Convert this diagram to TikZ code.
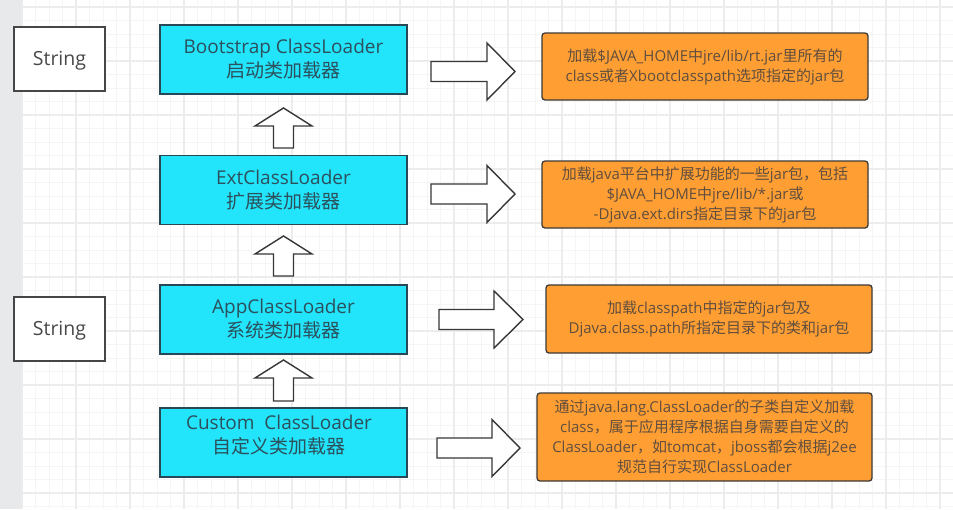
\documentclass[tikz,border=0pt]{standalone}
\usepackage{fontspec}
\setmainfont{Open Sans}
\newfontfamily\cjkfont{Noto Sans CJK SC}
\newcommand{\zh}[1]{{\cjkfont #1}}
\definecolor{cyanfill}{RGB}{34,228,251}
\definecolor{cyanborder}{RGB}{40,72,86}
\definecolor{cyantext}{RGB}{44,80,92}
\definecolor{orangefill}{RGB}{255,158,50}
\definecolor{orangeborder}{RGB}{60,58,56}
\definecolor{orangetext}{RGB}{96,78,62}
\definecolor{strborder}{RGB}{70,70,70}
\definecolor{strtext}{RGB}{72,72,72}
\definecolor{arrowborder}{RGB}{55,55,55}
\definecolor{gridminorc}{RGB}{245,245,245}
\definecolor{gridmajorc}{RGB}{236,236,236}
\definecolor{stripc}{RGB}{232,233,235}
\newcommand{\uparr}[4]{\draw[blockarrow] (#1,#2) -- (#1+28.5,#3) -- (#1+10,#3) -- (#1+10,#4) -- (#1-10,#4) -- (#1-10,#3) -- (#1-28.5,#3) -- cycle;}
\newcommand{\rarr}[4]{\draw[blockarrow] (#3,#4) -- (#2,#4-28.5) -- (#2,#4-10) -- (#1,#4-10) -- (#1,#4+10) -- (#2,#4+10) -- (#2,#4+28.5) -- cycle;}
\begin{document}
\begin{tikzpicture}[x=1pt,y=-1pt,
  gridminor/.style={draw=gridminorc, line width=0.8pt},
  gridmajor/.style={draw=gridmajorc, line width=1.1pt},
  loader/.style={draw=cyanborder, line width=1.5pt, fill=cyanfill, minimum width=247pt, minimum height=69pt, inner sep=0pt, align=center, text=cyantext, font=\fontsize{19}{24}\selectfont},
  loadertext/.style={inner sep=0pt, align=center, text=cyantext, font=\fontsize{19}{24}\selectfont},
  desc/.style={draw=orangeborder, line width=1.3pt, fill=orangefill, rounded corners=3pt, inner sep=0pt, align=center, text=orangetext, font=\fontsize{15}{20}\selectfont},
  strbox/.style={draw=strborder, line width=1.2pt, fill=white, minimum width=91pt, minimum height=64pt, inner sep=0pt, text depth=1pt, text=strtext, font=\fontsize{19.5}{24}\selectfont},
  blockarrow/.style={draw=arrowborder, line width=1.4pt, fill=white, line join=miter}
]
\useasboundingbox (0,0) rectangle (953,509);
\fill[white] (0,0) rectangle (953,509);
\fill[stripc] (0,0) rectangle (21,509);
% grid
\foreach \i in {0,...,69} \draw[gridminor] (22+13.5*\i,0) -- (22+13.5*\i,509);
\foreach \j in {0,...,37} \draw[gridminor] (22,7+13.5*\j) -- (953,7+13.5*\j);
\foreach \i in {0,...,17} \draw[gridmajor] (22+54*\i,0) -- (22+54*\i,509);
\foreach \j in {0,...,9} \draw[gridmajor] (22,7+54*\j) -- (953,7+54*\j);

% String boxes
\node[strbox] (s1) at (59.5,59) {String};
\node[strbox] (s2) at (59.5,329) {String};

% loaders
\node[loader] (boot) at (283.5,59.5) {Bootstrap ClassLoader\\\zh{启动类加载器}};
\node[loader] (ext) at (283.5,190) {ExtClassLoader\\\zh{扩展类加载器}};
\node[loader] (app) at (283.5,319.5) {AppClassLoader\\\zh{系统类加载器}};
\node[loader] (cust) at (283.5,442.5) {};
\node[loadertext] (custtext) at (279,435) {Custom\ \ ClassLoader\\\zh{自定义类加载器}};

% up arrows
\uparr{283.5}{108}{126}{148}
\uparr{283.5}{236}{254}{276}
\uparr{283.5}{360}{378}{401}

% right arrows
\rarr{431}{487}{515}{71.5}
\rarr{431}{487}{515}{194}
\rarr{439}{494}{523}{319.5}
\rarr{437}{492}{520}{448}

% descriptions
\node[desc, minimum width=326pt, minimum height=67pt] (o1) at (705,66.5)
  {\zh{加载}\$JAVA\_HOME\zh{中}jre/lib/rt.jar\zh{里所有的}\\class\zh{或者}Xbootclasspath\zh{选项指定的}jar\zh{包}};
\node[desc, minimum width=326pt, minimum height=67pt] (o2) at (705,194.5)
  {\zh{加载}java\zh{平台中扩展功能的一些}jar\zh{包，包括}\\\$JAVA\_HOME\zh{中}jre/lib/*.jar\zh{或}\\-Djava.ext.dirs\zh{指定目录下的}jar\zh{包}};
\node[desc, minimum width=326pt, minimum height=68pt] (o3) at (709,319)
  {\zh{加载}classpath\zh{中指定的}jar\zh{包及}\\Djava.class.path\zh{所指定目录下的类和}jar\zh{包}};
\node[desc, minimum width=335pt, minimum height=88pt] (o4) at (704.5,437)
  {\zh{通过}java.lang.ClassLoader\zh{的子类自定义加载}\\class\zh{，属于应用程序根据自身需要自定义的}\\ClassLoader\zh{，如}tomcat\zh{，}jboss\zh{都会根据}j2ee\\\zh{规范自行实现}ClassLoader};
\end{tikzpicture}
\end{document}
